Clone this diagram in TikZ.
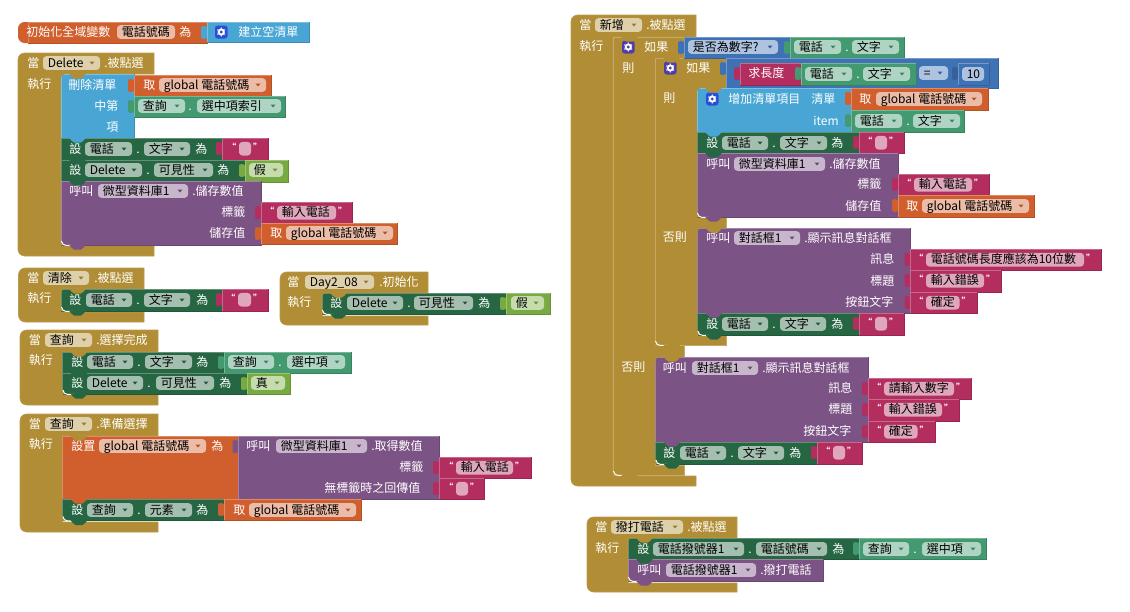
\documentclass[tikz,border=0pt]{standalone}
\usepackage{fontspec}
\setmainfont{Noto Sans CJK TC}
\definecolor{cOr}{HTML}{D05F2D}
\definecolor{cBl}{HTML}{49A6D4}
\definecolor{cLk}{HTML}{439970}
\definecolor{cDg}{HTML}{266643}
\definecolor{cPk}{HTML}{B32D5E}
\definecolor{cPu}{HTML}{7C5385}
\definecolor{cBr}{HTML}{B18E35}
\definecolor{cLg}{HTML}{77AB41}
\definecolor{cMa}{HTML}{3F71B5}
\definecolor{cIcA}{HTML}{2A4FD6}
\definecolor{cIcB}{HTML}{4E3FA8}
\tikzset{
  txtw/.style={anchor=base west,inner sep=0pt,text=white,font=\fontsize{9}{9}\selectfont},
  txtk/.style={anchor=base west,inner sep=0pt,text=black,font=\fontsize{9}{9}\selectfont},
  qmark/.style={anchor=center,inner sep=0pt,text=white,font=\bfseries\fontsize{6.5}{7}\selectfont},
  blkedge/.style={line width=.45pt}
}
% plain block: colour x1 y1 x2 y2
\newcommand{\blk}[5]{%
  \fill[#1] (#2,#3) rectangle (#4,#5);
  \draw[blkedge,#1!72!white] (#2,#5)--(#2,#3)--(#4,#3);
  \draw[blkedge,#1!85!black] (#4,#3)--(#4,#5)--(#2,#5);}
% output tab: colour x y
\newcommand{\vtab}[3]{%
  \fill[#1] (#2+.5,#3+5) -- (#2-3.5,#3+4) .. controls (#2-6,#3+4) and (#2-6,#3+5) .. (#2-6,#3+7)
    -- (#2-6,#3+14) .. controls (#2-6,#3+16) and (#2-6,#3+17) .. (#2-3.5,#3+17) -- (#2+.5,#3+16) -- cycle;}
% value block with tab
\newcommand{\vblk}[5]{\vtab{#1}{#2}{#3}\blk{#1}{#2}{#3}{#4}{#5}}
% statement tab: colour x y
\newcommand{\snotch}[3]{%
  \fill[#1] (#2+8,#3-.3) .. controls (#2+10,#3+1) and (#2+11,#3+4.5) .. (#2+13,#3+4.5)
    -- (#2+20,#3+4.5) .. controls (#2+22,#3+4.5) and (#2+23,#3+1) .. (#2+25,#3-.3) -- cycle;}
% field with dropdown: block colour x1 x2 yc text
\newcommand{\fld}[5]{%
  \fill[#1!42!white,rounded corners=2.5pt] (#2,#4-6.8) rectangle (#3,#4+6.8);
  \node[txtk] at (#2+4.5,#4+4.2) {#5};
  \fill[#1!85!black] (#3-10.5,#4-1.5) -- (#3-5.5,#4-1.5) -- (#3-8,#4+1.5) -- cycle;}
% text field without dropdown
\newcommand{\tfld}[5]{%
  \fill[#1!42!white,rounded corners=2.5pt] (#2,#4-6.8) rectangle (#3,#4+6.8);
  \node[txtk] at (#2+4.5,#4+4.2) {#5};}
% white label
\newcommand{\lab}[3]{\node[txtw] at (#1,#2+4.2) {#3};}
% string block: x1 y1 x2 y2 f1 f2 text
\newcommand{\strb}[7]{%
  \vblk{cPk}{#1}{#2}{#3}{#4}
  \tfld{cPk}{#5}{#6}{#2+10.7}{#7}
  \node[qmark] at (#5-7,#2+9) {“};
  \node[qmark] at (#6+6.5,#2+9) {”};}
% bottom end of a stack, inner brown corner with white line
\newcommand{\stackend}[3]{%
  \fill[cBr] (#1-.3,#2-5) -- (#1-.3,#2+.3) -- (#1+5,#2+.3) .. controls (#1+2,#2) and (#1,#2-2) .. cycle;
  \draw[white,line width=.7pt] (#1+.4,#2-4) .. controls (#1+.8,#2-1.5) and (#1+2.5,#2+.4) .. (#1+5,#2+.4) -- (#1+#3,#2+.4);}
% rounded top left of a stack
\newcommand{\stackstart}[2]{%
  \fill[cBr] (#1-.3,#2-.3) -- (#1+4,#2-.3) .. controls (#1+2,#2) and (#1,#2+2) .. (#1-.3,#2+4) -- cycle;}
% event block: x1 y1 xR yH xC yS yB
\newcommand{\hatb}[7]{%
  \draw[blkedge,fill=cBr,draw=cBr!88!white] (#3,#7) -- (#3,#6) -- (#5,#6) -- (#5,#4) -- (#3,#4) -- (#3,#2)
     [rounded corners=5pt] -- (#1,#2) -- (#1,#7) -- (#3,#7);}
% mutator icon: colour x1 yc
\newcommand{\icon}[3]{%
  \fill[#1,rounded corners=2pt] (#2,#3-6.5) rectangle (#2+12.5,#3+6.5);
  \fill[white] (#2+6.25,#3) circle (3.6);
  \foreach \a in {30,90,...,330} {\fill[white] (#2+6.25,#3) ++(\a:3.9) circle (.8);}
  \fill[#1] (#2+6.25,#3) circle (1.6);}
\begin{document}
\begin{tikzpicture}[x=.75pt,y=-.75pt]
\useasboundingbox (0,0) rectangle (1130,611);
\fill[white] (0,0) rectangle (1130,611);

% ---------- global variable
\fill[cOr,rounded corners=5pt] (18,22) rectangle (40,43);
\blk{cOr}{28}{22}{207}{43}
\fill[cOr] (18.5,27) rectangle (30,38);
\lab{26}{32}{初始化全域變數}
\tfld{cOr}{117}{175}{32}{電話號碼}
\lab{179}{32}{為}
\vblk{cBl}{207}{22}{309}{42}
\icon{cIcA}{215}{32}
\lab{238}{32}{建立空清單}

% ---------- Delete
\hatb{18}{53}{154}{74}{61}{245}{256}
\lab{27}{63}{當}
\fld{cBr}{43}{100}{63}{Delete}
\lab{104}{63}{.被點選}
\lab{27}{84}{執行}
\blk{cBl}{61}{74}{134}{138}
\stackstart{61}{74}
\lab{68}{85}{刪除清單}
\lab{94}{106}{中第}
\lab{106}{127}{項}
\vblk{cOr}{134}{75}{271}{96}
\lab{143}{85}{取}
\fld{cOr}{159}{266}{85}{global 電話號碼}
\vblk{cLk}{134}{96}{285}{117}
\fld{cLk}{138}{185}{106}{查詢}
\lab{188}{106}{.}
\fld{cLk}{197}{281}{106}{選中項索引}
\blk{cDg}{61}{138}{222}{160}
\lab{69}{149}{設}
\fld{cDg}{85}{132}{149}{電話}
\lab{136}{149}{.}
\fld{cDg}{144}{190}{149}{文字}
\lab{195}{149}{為}
\strb{222}{138}{268}{160}{239}{251}{}
\blk{cDg}{61}{160}{245}{181}
\lab{69}{170}{設}
\fld{cDg}{85}{142}{170}{Delete}
\lab{146}{170}{.}
\fld{cDg}{154}{213}{170}{可見性}
\lab{217}{170}{為}
\vblk{cLg}{245}{160}{288}{182}
\fld{cLg}{249}{283}{170}{假}
\blk{cPu}{61}{181}{261}{245}
\lab{69}{191}{呼叫}
\fld{cPu}{98}{188}{191}{微型資料庫1}
\lab{192}{191}{.儲存數值}
\lab{221}{212}{標籤}
\lab{209}{233}{儲存值}
\strb{261}{202}{352}{223}{277}{336}{輸入電話}
\vblk{cOr}{261}{223}{397}{244}
\lab{270}{233}{取}
\fld{cOr}{286}{393}{233}{global 電話號碼}
\snotch{cBr}{61}{74}
\snotch{cBl}{61}{138}
\snotch{cDg}{61}{160}
\snotch{cDg}{61}{181}
\stackend{61}{245}{12}
\snotch{cPu}{61}{245}

% ---------- 清除
\hatb{18.5}{268}{144}{289}{61}{312}{322}
\lab{27}{278}{當}
\fld{cBr}{43}{89}{278}{清除}
\lab{94}{278}{.被點選}
\lab{27}{298}{執行}
\blk{cDg}{61}{289}{222}{311}
\stackstart{61}{289}
\lab{69}{300}{設}
\fld{cDg}{86}{132}{300}{電話}
\lab{136}{300}{.}
\fld{cDg}{144}{190}{300}{文字}
\lab{196}{300}{為}
\strb{222}{289}{268}{311}{238}{251}{}
\snotch{cBr}{61}{289}
\stackend{61}{311}{12}
\snotch{cDg}{61}{311}

% ---------- Day2_08
\hatb{280}{272}{428}{293}{322}{316}{325}
\lab{287}{282}{當}
\fld{cBr}{305}{374}{282}{Day2\_08}
\lab{379}{282}{.初始化}
\lab{287}{302}{執行}
\blk{cDg}{322}{293}{506}{314}
\stackstart{322}{293}
\lab{330}{303}{設}
\fld{cDg}{347}{403}{303}{Delete}
\lab{407}{303}{.}
\fld{cDg}{414}{473}{303}{可見性}
\lab{478}{303}{為}
\vblk{cLg}{506}{293}{550}{314}
\fld{cLg}{511}{544}{303}{假}
\snotch{cBr}{322}{293}
\stackend{322}{314}{12}
\snotch{cDg}{322}{314}

% ---------- 查詢 選擇完成
\hatb{20}{330}{158}{352}{62.5}{394}{405}
\lab{28.5}{340}{當}
\fld{cBr}{45}{92}{340}{查詢}
\lab{96}{340}{.選擇完成}
\lab{28.5}{360}{執行}
\blk{cDg}{62.5}{352}{224}{373}
\lab{71}{362}{設}
\fld{cDg}{87}{133}{362}{電話}
\lab{137}{362}{.}
\fld{cDg}{145}{192}{362}{文字}
\lab{196}{362}{為}
\vblk{cLk}{224}{352}{351}{373}
\fld{cLk}{228}{274}{362}{查詢}
\lab{278}{362}{.}
\fld{cLk}{287}{345}{362}{選中項}
\blk{cDg}{62.5}{373}{247}{394}
\lab{71}{383}{設}
\fld{cDg}{87}{143}{383}{Delete}
\lab{147}{383}{.}
\fld{cDg}{156}{214}{383}{可見性}
\lab{219}{383}{為}
\vblk{cLg}{247}{373}{290}{394}
\fld{cLg}{251}{285}{383}{真}
\snotch{cBr}{62.5}{352}
\snotch{cDg}{62.5}{373}
\stackend{62.5}{394}{12}
\snotch{cDg}{62.5}{394}

% ---------- 查詢 準備選擇
\hatb{20}{414}{158}{436}{62.5}{522}{532}
\lab{28.5}{424}{當}
\fld{cBr}{45}{92}{424}{查詢}
\lab{96}{424}{.準備選擇}
\lab{28.5}{444}{執行}
\blk{cOr}{62.5}{436}{238.5}{499}
\lab{71}{446}{設置}
\fld{cOr}{99}{206}{446}{global 電話號碼}
\lab{211}{446}{為}
\vblk{cPu}{238.5}{436}{439}{499}
\lab{246}{446}{呼叫}
\fld{cPu}{276}{367}{446}{微型資料庫1}
\lab{371}{446}{.取得數值}
\lab{399}{467}{標籤}
\lab{324}{488}{無標籤時之回傳值}
\strb{439}{457}{531}{478}{456}{513}{輸入電話}
\strb{439}{478}{484.5}{499}{456}{468}{}
\blk{cDg}{62.5}{499}{224}{520.5}
\lab{71}{510}{設}
\fld{cDg}{87}{133}{510}{查詢}
\lab{137}{510}{.}
\fld{cDg}{145}{192}{510}{元素}
\lab{196}{510}{為}
\vblk{cOr}{224}{499}{361}{520.5}
\lab{233}{510}{取}
\fld{cOr}{249}{356}{510}{global 電話號碼}
\snotch{cBr}{62.5}{436}
\snotch{cOr}{62.5}{499}
\stackend{62.5}{520.5}{12}
\snotch{cDg}{62.5}{520.5}

% ---------- 新增
\hatb{571}{15}{696}{37}{613}{476}{486}
\lab{579}{25}{當}
\fld{cBr}{595}{642}{25}{新增}
\lab{646}{25}{.被點選}
\lab{579}{46}{執行}
% outer if
\draw[blkedge,fill=cBr,draw=cBr!75!white] (613,37) -- (684,37) -- (684,58) -- (655,58) -- (655,345) -- (684,345)
   -- (684,357) -- (655,357) -- (655,465) -- (684,465) -- (684,475) -- (613,475) -- cycle;
\icon{cIcB}{622}{47}
\lab{644}{47}{如果}
\lab{622}{68}{則}
\lab{621}{367}{否則}
% inner if
\draw[blkedge,fill=cBr,draw=cBr!75!white] (655,58) -- (726,58) -- (726,88) -- (697,88) -- (697,217) -- (726,217)
   -- (726,228) -- (697,228) -- (697,335) -- (726,335) -- (726,345) -- (655,345) -- cycle;
\icon{cIcB}{664}{68}
\lab{686}{68}{如果}
\lab{663}{98}{則}
\lab{662.5}{237}{否則}
% conditions
\vblk{cMa}{684}{37}{790}{58}
\fld{cMa}{688}{778}{47}{是否為數字?}
\vblk{cLk}{790}{37}{904}{58}
\fld{cLk}{794}{841}{47}{電話}
\lab{845}{47}{.}
\fld{cLk}{852}{899}{47}{文字}
\vblk{cMa}{726}{58}{998}{88}
\vblk{cPk}{740}{63}{801}{85}
\lab{748}{73}{求長度}
\vblk{cLk}{801}{63}{916}{85}
\fld{cLk}{805}{852}{74}{電話}
\lab{856}{74}{.}
\fld{cLk}{863}{910}{74}{文字}
\fld{cMa}{919}{948}{73}{=}
\vtab{cMa!85!black}{958}{63}
\blk{cMa}{958}{63}{989}{85}
\tfld{cMa}{962}{984}{74}{10}
% then branch
\blk{cBl}{697}{88}{851}{132}
\stackstart{697}{88}
\icon{cIcA}{706}{99}
\lab{728}{99}{增加清單項目}
\lab{811}{99}{清單}
\lab{813}{121}{item}
\vblk{cOr}{851}{88}{988}{110}
\lab{859}{99}{取}
\fld{cOr}{876}{982}{99}{global 電話號碼}
\vblk{cLk}{851}{110}{964}{132}
\fld{cLk}{855}{902}{121}{電話}
\lab{906}{121}{.}
\fld{cLk}{913}{960}{121}{文字}
\blk{cDg}{697}{132}{859}{153}
\lab{706}{143}{設}
\fld{cDg}{722}{768}{143}{電話}
\lab{772}{143}{.}
\fld{cDg}{780}{827}{143}{文字}
\lab{831}{143}{為}
\strb{859}{132}{904}{153}{875}{887}{}
\blk{cPu}{697}{153}{898}{217}
\lab{706}{164}{呼叫}
\fld{cPu}{734}{825}{164}{微型資料庫1}
\lab{829}{164}{.儲存數值}
\lab{857}{184}{標籤}
\lab{845}{206}{儲存值}
\strb{898}{174}{989}{195}{914}{972}{輸入電話}
\vblk{cOr}{898}{195}{1034}{217}
\lab{906}{206}{取}
\fld{cOr}{922}{1029}{206}{global 電話號碼}
% else branch of inner
\blk{cPu}{697.5}{228}{910}{313}
\stackstart{697.5}{228}
\lab{706}{238}{呼叫}
\fld{cPu}{734}{800}{238}{對話框1}
\lab{804}{238}{.顯示訊息對話框}
\lab{870}{259}{訊息}
\lab{870}{281}{標題}
\lab{845}{302}{按鈕文字}
\strb{910.5}{249}{1101.5}{270}{926}{1084}{電話號碼長度應該為10位數}
\strb{910.5}{270}{1001.5}{292}{926}{984}{輸入錯誤}
\strb{910.5}{292}{977}{313}{926}{959.5}{確定}
\blk{cDg}{697.5}{313}{859}{335}
\lab{706}{324}{設}
\fld{cDg}{722}{768}{324}{電話}
\lab{772}{324}{.}
\fld{cDg}{780}{826}{324}{文字}
\lab{831}{324}{為}
\strb{859}{313}{904}{335}{875}{887}{}
% else branch of outer
\blk{cPu}{655.5}{357}{868}{442}
\stackstart{655.5}{357}
\lab{662.5}{368}{呼叫}
\fld{cPu}{692}{758}{368}{對話框1}
\lab{762}{368}{.顯示訊息對話框}
\lab{828}{388}{訊息}
\lab{828}{409}{標題}
\lab{803}{431}{按鈕文字}
\strb{868}{378}{971}{399}{884}{954}{請輸入數字}
\strb{868}{399}{959.5}{421}{884}{942}{輸入錯誤}
\strb{868}{421}{935}{442}{884}{917.5}{確定}
\blk{cDg}{655.5}{442}{817}{464}
\lab{663}{453}{設}
\fld{cDg}{680}{726}{453}{電話}
\lab{730}{453}{.}
\fld{cDg}{738}{784}{453}{文字}
\lab{789}{453}{為}
\strb{817}{442}{862}{464}{833}{845}{}
% notches
\snotch{cBr}{613}{37}
\snotch{cBr}{655}{58}
\snotch{cBr}{697}{88}
\snotch{cBl}{697}{132}
\snotch{cDg}{697}{153}
\stackend{697}{217}{12}
\snotch{cPu}{697}{217}
\snotch{cBr}{697.5}{228}
\snotch{cPu}{697.5}{313}
\stackend{697.5}{335}{12}
\snotch{cDg}{697.5}{335}
\stackend{655}{345}{12}
\snotch{cBr}{655}{345}
\snotch{cBr}{655.5}{357}
\snotch{cPu}{655.5}{442}
\stackend{655.5}{464}{12}
\snotch{cDg}{655.5}{464}
\stackend{613}{475}{12}
\snotch{cBr}{613}{475}

% ---------- 撥打電話
\hatb{587}{517}{737}{538}{628}{583}{592}
\lab{595}{527}{當}
\fld{cBr}{611}{683}{527}{撥打電話}
\lab{687}{527}{.被點選}
\lab{595}{548}{執行}
\blk{cDg}{628}{538}{859}{559}
\stackstart{628}{538}
\lab{637}{549}{設}
\fld{cDg}{653}{744}{549}{電話撥號器1}
\lab{748}{549}{.}
\fld{cDg}{756}{827}{549}{電話號碼}
\lab{832}{549}{為}
\vblk{cLk}{859}{538}{986}{559}
\fld{cLk}{863}{909}{549}{查詢}
\lab{913}{549}{.}
\fld{cLk}{922}{981}{549}{選中項}
\blk{cPu}{628}{559}{823}{581}
\lab{637}{570}{呼叫}
\fld{cPu}{666}{756}{570}{電話撥號器1}
\lab{760}{570}{.撥打電話}
\snotch{cBr}{628}{538}
\snotch{cDg}{628}{559}
\stackend{628}{581}{12}
\snotch{cPu}{628}{581}
\end{tikzpicture}
\end{document}
